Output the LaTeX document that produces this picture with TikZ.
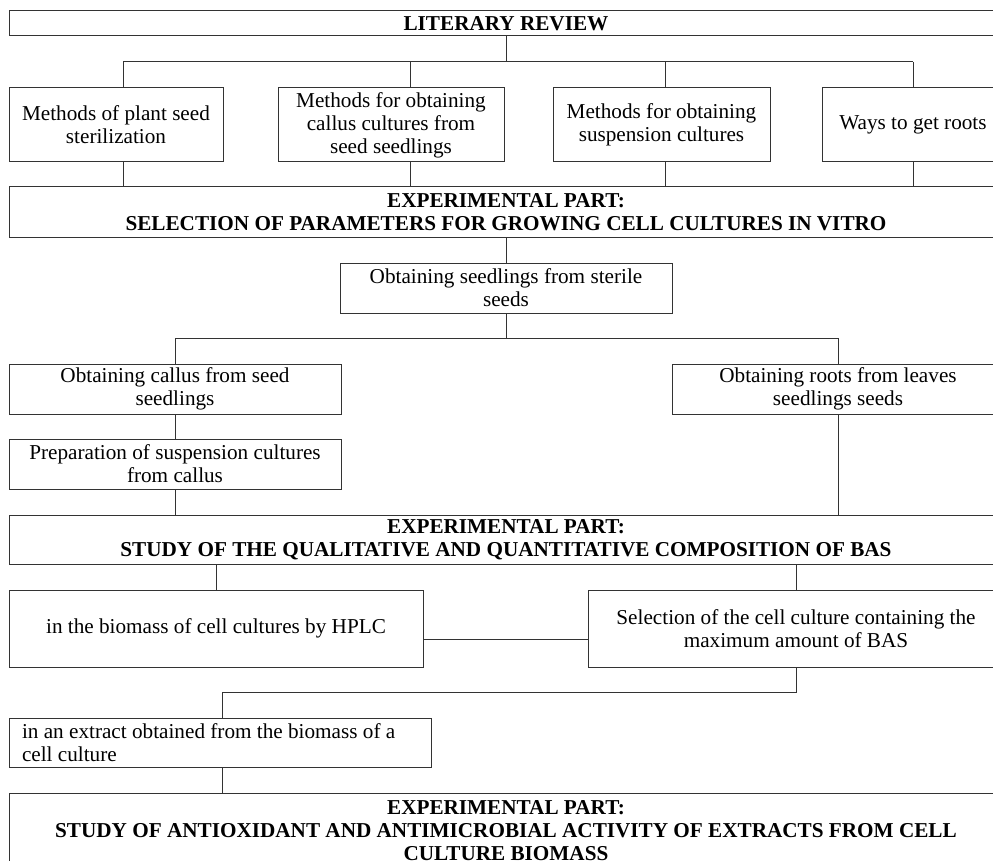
\documentclass[tikz,border=0pt]{standalone}
\usepackage{fontspec}
\setmainfont{Liberation Serif}

\begin{document}
\begin{tikzpicture}[x=1pt,y=-1pt,
  box/.style={draw=black!80,line width=1pt,inner sep=0pt,align=center,
    font=\fontsize{21.2}{23}\selectfont},
  head/.style={box,font=\fontsize{21.2}{23}\selectfont\bfseries},
  link/.style={draw=black!80,line width=1pt}]
\clip (0,0) rectangle (993,861);
\fill[white] (0,0) rectangle (993,861);

% literary review
\node[head,minimum width=994pt,minimum height=25pt] (lit) at (506,23.5) {LITERARY REVIEW};
\node[box,minimum width=214pt,minimum height=74pt] (ster) at (116,125) {Methods of plant seed\\sterilization};
\node[box,minimum width=226pt,minimum height=74pt] (call) at (391,125) {Methods for obtaining\\callus cultures from\\seed seedlings};
\node[box,minimum width=217pt,minimum height=74pt] (susp) at (661.5,125) {Methods for obtaining\\suspension cultures};
\node[box,minimum width=182pt,minimum height=74pt] (ways) at (913,125) {Ways to get roots};

% experimental part 1
\node[head,minimum width=994pt,minimum height=50pt] (exp1) at (506,212) {EXPERIMENTAL PART:\\SELECTION OF PARAMETERS FOR GROWING CELL CULTURES IN VITRO};
\node[box,minimum width=332pt,minimum height=50pt] (sdl) at (506,288) {Obtaining seedlings from sterile\\seeds};
\node[box,minimum width=332pt,minimum height=50pt] (cal) at (175,389) {Obtaining callus from seed\\seedlings};
\node[box,minimum width=332pt,minimum height=50pt] (rts) at (838,389) {Obtaining roots from leaves\\seedlings seeds};
\node[box,minimum width=332pt,minimum height=50pt] (prep) at (175,464) {Preparation of suspension cultures\\from callus};

% experimental part 2
\node[head,minimum width=994pt,minimum height=49pt] (exp2) at (506,539.5) {EXPERIMENTAL PART:\\STUDY OF THE QUALITATIVE AND QUANTITATIVE COMPOSITION OF BAS};
\node[box,minimum width=414pt,minimum height=77pt] (hplc) at (216,628.5) {in the biomass of cell cultures by HPLC};
\node[box,minimum width=416pt,minimum height=77pt] (sel) at (796,628.5) {Selection of the cell culture containing the\\maximum amount of BAS};
\node[box,align=flush left,text width=396pt,inner xsep=13pt,minimum height=49pt] (extr) at (220,742.5) {in an extract obtained from the biomass of a\\cell culture};

% experimental part 3
\node[head,minimum width=994pt,minimum height=75pt] (exp3) at (506,830.5) {EXPERIMENTAL PART:\\STUDY OF ANTIOXIDANT AND ANTIMICROBIAL ACTIVITY OF EXTRACTS FROM CELL\\CULTURE BIOMASS};

% connectors
\coordinate (t1) at (123,62);
\coordinate (t2) at (410,62);
\coordinate (t3) at (665,62);
\coordinate (t4) at (913,62);
\draw[link] (lit.south) -- (lit.south |- t1);
\draw[link] (t1) -- (t4);
\foreach \t/\b in {t1/ster,t2/call,t3/susp,t4/ways}{
  \draw[link] (\t) -- (\t |- \b.north);
  \draw[link] (\t |- \b.south) -- (\t |- exp1.north);
}
\draw[link] (exp1.south) -- (sdl.north);
\coordinate (u1) at (175,338);
\coordinate (u2) at (838,338);
\draw[link] (sdl.south) -- (sdl.south |- u1);
\draw[link] (u1) -- (u2);
\draw[link] (u1) -- (cal.north);
\draw[link] (u2) -- (rts.north);
\draw[link] (cal.south) -- (prep.north);
\draw[link] (prep.south) -- (prep.south |- exp2.north);
\draw[link] (rts.south) -- (rts.south |- exp2.north);
\draw[link] (hplc.north |- exp2.south) -- (hplc.north);
\draw[link] (sel.north |- exp2.south) -- (sel.north);
\coordinate (v0) at (0,639);
\draw[link] (hplc.east |- v0) -- (sel.west |- v0);
\coordinate (w1) at (222,692);
\draw[link] (sel.south) -- (sel.south |- w1) -- (w1) -- (w1 |- extr.north);
\draw[link] (w1 |- extr.south) -- (w1 |- exp3.north);
\end{tikzpicture}
\end{document}
